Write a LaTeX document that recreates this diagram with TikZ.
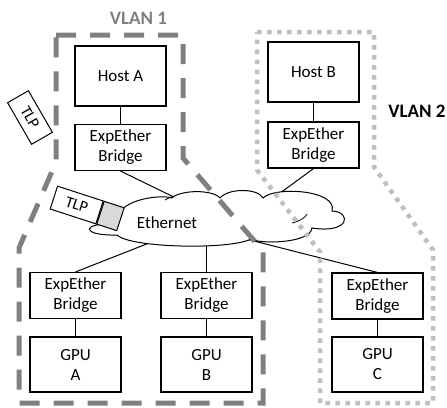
\documentclass[tikz,border=0pt]{standalone}
\usepackage{fontspec}
\setmainfont{Carlito}
\definecolor{vlgray}{HTML}{808080}
\definecolor{vllight}{HTML}{BFBFBF}
\definecolor{tlpgray}{HTML}{D9D9D9}
\begin{document}
\begin{tikzpicture}[x=1pt,y=-1pt,
  box/.style={draw, line width=1.1pt, minimum width=91pt, inner sep=0pt, align=center, font=\fontsize{17}{20}\selectfont},
  hostbox/.style={box, minimum height=60pt},
  bridgebox/.style={box, minimum height=46pt},
  gpubox/.style={box, minimum height=55pt},
  link/.style={line width=1pt},
  vlanone/.style={draw=vlgray, line width=5pt, dash pattern=on 20pt off 14pt},
  vlantwo/.style={draw=vllight, line width=4.5pt, dash pattern=on 4.5pt off 5.5pt},
  tlpbox/.style={draw, fill=white, line width=1pt, minimum width=48pt, minimum height=24pt, inner sep=0pt, font=\fontsize{16}{18}\selectfont},
  graysq/.style={draw, fill=tlpgray, line width=1pt, minimum width=21pt, minimum height=24pt, inner sep=0pt},
  vlanlabel/.style={font=\bfseries\fontsize{19}{22}\selectfont, inner sep=0pt},
]
\useasboundingbox (0,0) rectangle (447,407);

% boxes
\node[hostbox] (hostA) at (120.5,76) {Host A};
\node[bridgebox] (bridgeA) at (120.5,147.5) {ExpEther\\Bridge};
\node[hostbox] (hostB) at (313.5,72) {Host B};
\node[bridgebox] (bridgeB) at (313.5,145) {ExpEther\\Bridge};
\node[bridgebox] (bridge1) at (75.5,295.5) {ExpEther\\Bridge};
\node[gpubox] (gpuA) at (75.5,364.5) {GPU\\A};
\node[bridgebox] (bridge2) at (206.5,295.5) {ExpEther\\Bridge};
\node[gpubox] (gpuB) at (206.5,364.5) {GPU\\B};
\node[bridgebox] (bridge3) at (377.5,296) {ExpEther\\Bridge};
\node[gpubox] (gpuC) at (377.5,364.5) {GPU\\C};

% cloud attachment points (inside the cloud outline)
\coordinate (cA) at (182,201);
\coordinate (cB) at (272,199);
\coordinate (c1) at (172,234);
\coordinate (c2) at (206.5,236);
\coordinate (c3) at (246,239);

% connectors
\draw[link] (hostA) -- (bridgeA);
\draw[link] (hostB) -- (bridgeB);
\draw[link] (bridge1) -- (gpuA);
\draw[link] (bridge2) -- (gpuB);
\draw[link] (bridge3) -- (gpuC);
\draw[link] (bridgeA.south) -- (cA);
\draw[link] (bridgeB.south) -- (cB);
\draw[link] (c1) -- (bridge1.north);
\draw[link] (c2) -- (bridge2.north);
\draw[link] (c3) -- (bridge3.north);

% cloud
\draw[line width=1pt, fill=white] (118,224)
  .. controls (112,200) and (160,194) .. (172,198)
  .. controls (180,190) and (212,189) .. (220,198)
  .. controls (228,188) and (258,188) .. (263,198)
  .. controls (275,186) and (338,190) .. (332,211)
  .. controls (352,212) and (350,234) .. (312,228)
  .. controls (310,244) and (258,244) .. (251,239)
  .. controls (230,250) and (130,248) .. (117,235)
  .. controls (80,236) and (80,222) .. (118,224) -- cycle;
\draw[line width=0.8pt] (165,200) .. controls (170,197) and (172,197) .. (174,196);
\draw[line width=0.8pt] (292,223) .. controls (300,221) and (305,218) .. (307,214);
\node[font=\fontsize{17}{20}\selectfont] (eth) at (167,223) {Ethernet};

% VLAN borders
\draw[vlanone] (56,35) -- (183,35) -- (183,158) -- (263,251) -- (263,403) -- (19,403) -- (19,248) -- (56,162) -- cycle;
\draw[vlantwo] (257,32) -- (374,32) -- (374,167) -- (433,250) -- (433,403) -- (320,403) -- (320,252) -- (257,170) -- cycle;

\node[vlanlabel, text=vlgray] (vlan1) at (138.5,18) {VLAN 1};
\node[vlanlabel, text=black] (vlan2) at (417,111) {VLAN 2};

% TLP packets
\node[tlpbox, rotate=-60] (tlp1) at (30,117.5) {TLP};
\node[tlpbox, rotate=-18] (tlp2) at (76.7,205) {TLP};
\node[graysq, rotate=-18, anchor=west] (tlpsq) at (tlp2.east) {};
\end{tikzpicture}
\end{document}
